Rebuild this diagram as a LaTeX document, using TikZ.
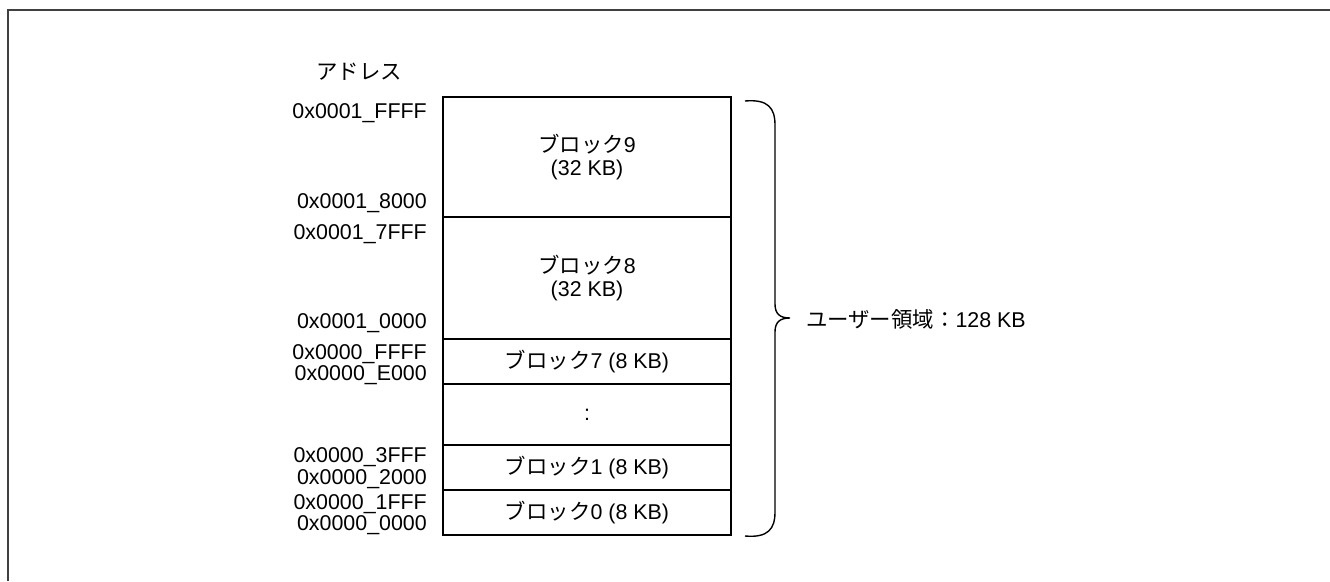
\documentclass[tikz,border=0pt]{standalone}
\usepackage{fontspec}
\setmainfont{Liberation Sans}
\newfontfamily\jp{Noto Sans CJK JP}
\begin{document}
\begin{tikzpicture}[x=1pt,y=-1pt,
  txt/.style={font=\fontsize{21.4}{23}\selectfont},
  blk/.style={txt,draw,line width=1.6pt,minimum width=288pt,inner sep=0pt,align=center},
  addr/.style={txt,anchor=base east,inner sep=0pt},
  frm/.style={draw=black!75,line width=1.6pt},
  brc/.style={draw,line width=1.4pt}]
\useasboundingbox (0,0) rectangle (1330,581);
\draw[frm] (8,581) -- (8,10) -- (1330,10);
% blocks
\node[blk,minimum height=120pt] (b9) at (587,157) {{\jp ブロック}9\\(32 KB)};
\node[blk,minimum height=122pt] (b8) at (587,278) {{\jp ブロック}8\\(32 KB)};
\node[blk,minimum height=45pt] (b7) at (587,361.5) {{\jp ブロック}7 (8 KB)};
\node[blk,minimum height=61pt] (bd) at (587,414.5) {:};
\node[blk,minimum height=45pt] (b1) at (587,467.5) {{\jp ブロック}1 (8 KB)};
\node[blk,minimum height=45pt] (b0) at (587,512.5) {{\jp ブロック}0 (8 KB)};
% addresses
\node[txt] (hdr) at (359,72) {\jp アドレス};
\node[addr] (a1) at (427,118) {0x0001\_FFFF};
\node[addr] (a2) at (427,208) {0x0001\_8000};
\node[addr] (a3) at (427,239) {0x0001\_7FFF};
\node[addr] (a4) at (427,328) {0x0001\_0000};
\node[addr] (a5) at (427,359) {0x0000\_FFFF};
\node[addr] (a6) at (427,380) {0x0000\_E000};
\node[addr] (a7) at (427,462) {0x0000\_3FFF};
\node[addr] (a8) at (427,484) {0x0000\_2000};
\node[addr] (a9) at (427,509) {0x0000\_1FFF};
\node[addr] (a10) at (427,530) {0x0000\_0000};
% brace
\coordinate (tip) at (790,318);
\draw[brc] (745,101) .. controls (768,99) and (775,108) .. (775,125) -- (775,304)
  .. controls (775,314) and (780,318) .. (tip)
  .. controls (780,318) and (775,322) .. (775,332) -- (775,512)
  .. controls (775,529) and (768,538) .. (745,536);
\node[txt,anchor=west,inner sep=0pt] (ua) at ([xshift=16pt,yshift=-1pt]tip) {{\jp ユーザー領域：}128 KB};
\end{tikzpicture}
\end{document}
